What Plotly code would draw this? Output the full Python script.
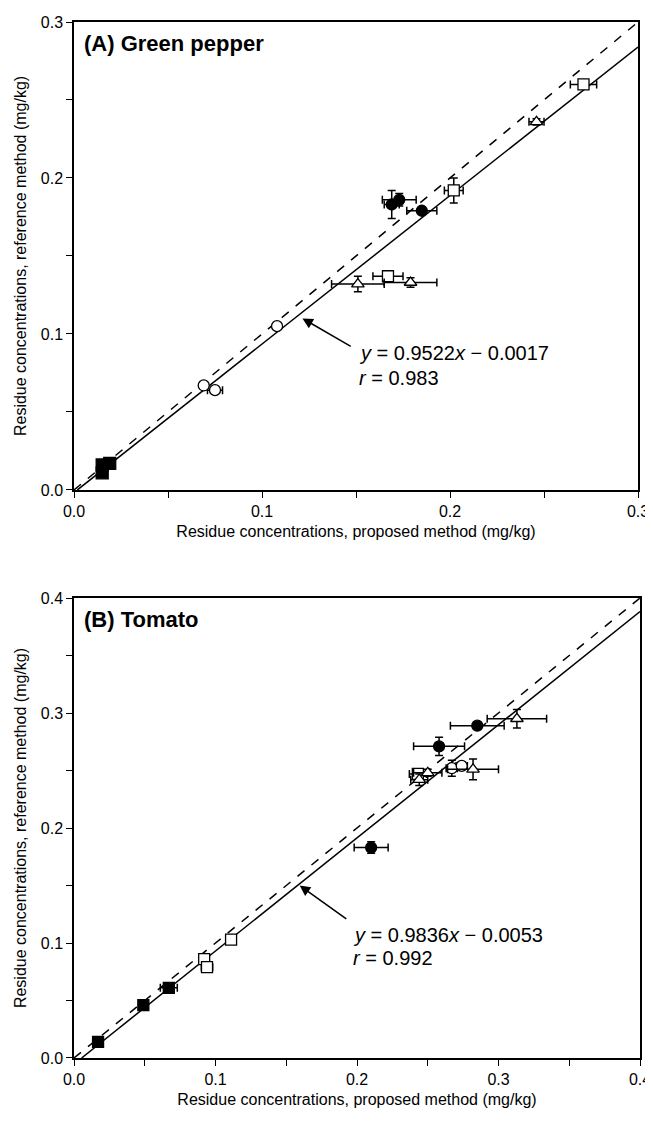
import plotly.graph_objects as go

# ---------------- Data: (A) Green pepper ----------------
gp_fsq_x = [0.015, 0.019, 0.015]
gp_fsq_y = [0.016, 0.017, 0.011]
gp_fsq_xe = [0.001, 0.001, 0.001]
gp_fsq_ye = [0.001, 0.001, 0.001]

gp_ocir_x = [0.069, 0.075, 0.108]
gp_ocir_y = [0.067, 0.064, 0.105]
gp_ocir_xe = [0.001, 0.004, 0.001]
gp_ocir_ye = [0.001, 0.001, 0.001]

gp_fcir_x = [0.169, 0.173, 0.185]
gp_fcir_y = [0.183, 0.186, 0.179]
gp_fcir_xe = [0.004, 0.009, 0.008]
gp_fcir_ye = [0.009, 0.004, 0.002]

gp_osq_x = [0.167, 0.202, 0.271]
gp_osq_y = [0.137, 0.192, 0.260]
gp_osq_xe = [0.008, 0.005, 0.007]
gp_osq_ye = [0.002, 0.008, 0.002]

gp_tri_x = [0.151, 0.179, 0.246]
gp_tri_y = [0.132, 0.133, 0.236]
gp_tri_xe = [0.014, 0.014, 0.004]
gp_tri_ye = [0.005, 0.003, 0.002]

gp_slope, gp_icpt, gp_r = 0.9522, -0.0017, 0.983

# ---------------- Data: (B) Tomato ----------------
tm_fsq_x = [0.017, 0.049, 0.067]
tm_fsq_y = [0.014, 0.046, 0.061]
tm_fsq_xe = [0.002, 0.002, 0.006]
tm_fsq_ye = [0.002, 0.002, 0.002]

tm_osq_x = [0.092, 0.094, 0.111, 0.243]
tm_osq_y = [0.086, 0.079, 0.103, 0.247]
tm_osq_xe = [0.002, 0.004, 0.002, 0.006]
tm_osq_ye = [0.002, 0.002, 0.002, 0.004]

tm_fcir_x = [0.210, 0.258, 0.285]
tm_fcir_y = [0.183, 0.271, 0.289]
tm_fcir_xe = [0.012, 0.018, 0.019]
tm_fcir_ye = [0.005, 0.008, 0.003]

tm_ocir_x = [0.267, 0.274]
tm_ocir_y = [0.252, 0.254]
tm_ocir_xe = [0.004, 0.004]
tm_ocir_ye = [0.007, 0.003]

tm_tri_x = [0.244, 0.250, 0.282, 0.313]
tm_tri_y = [0.242, 0.248, 0.251, 0.295]
tm_tri_xe = [0.006, 0.010, 0.018, 0.021]
tm_tri_ye = [0.005, 0.003, 0.009, 0.008]

tm_slope, tm_icpt, tm_r = 0.9836, -0.0053, 0.992

gp_ticks = [0.0, 0.05, 0.1, 0.15, 0.2, 0.25, 0.3]
gp_ticktext = ["0.0", "", "0.1", "", "0.2", "", "0.3"]
tm_ticks = [0.0, 0.05, 0.1, 0.15, 0.2, 0.25, 0.3, 0.35, 0.4]
tm_ticktext = ["0.0", "", "0.1", "", "0.2", "", "0.3", "", "0.4"]

FONT = "Liberation Sans, Arial, sans-serif"

fig = go.Figure()


def add_panel(xa, ya, xmax, slope, icpt, series):
    # 1:1 dashed line
    fig.add_trace(go.Scatter(x=[0, xmax], y=[0, xmax], mode="lines",
                             line=dict(color="black", width=1.5, dash="dash"),
                             xaxis=xa, yaxis=ya, showlegend=False, hoverinfo="skip"))
    x0 = -icpt / slope
    fig.add_trace(go.Scatter(x=[x0, xmax], y=[slope * x0 + icpt, slope * xmax + icpt],
                             mode="lines", line=dict(color="black", width=1.5),
                             xaxis=xa, yaxis=ya, showlegend=False, hoverinfo="skip"))
    for (sx, sy, sxe, sye, sym, fill, size) in series:
        fig.add_trace(go.Scatter(
            x=sx, y=sy, mode="markers",
            marker=dict(symbol=sym, size=size, color=fill,
                        line=dict(color="black", width=1.3)),
            error_x=dict(type="data", array=sxe, color="black", thickness=1.5, width=4),
            error_y=dict(type="data", array=sye, color="black", thickness=1.5, width=4),
            xaxis=xa, yaxis=ya, showlegend=False, cliponaxis=False))


add_panel("x", "y", 0.3, gp_slope, gp_icpt, [
    (gp_fsq_x, gp_fsq_y, gp_fsq_xe, gp_fsq_ye, "square", "black", 12),
    (gp_ocir_x, gp_ocir_y, gp_ocir_xe, gp_ocir_ye, "circle", "white", 11),
    (gp_fcir_x, gp_fcir_y, gp_fcir_xe, gp_fcir_ye, "circle", "black", 11),
    (gp_osq_x, gp_osq_y, gp_osq_xe, gp_osq_ye, "square", "white", 11),
    (gp_tri_x, gp_tri_y, gp_tri_xe, gp_tri_ye, "triangle-up", "white", 11),
])
add_panel("x2", "y2", 0.4, tm_slope, tm_icpt, [
    (tm_fsq_x, tm_fsq_y, tm_fsq_xe, tm_fsq_ye, "square", "black", 11),
    (tm_osq_x, tm_osq_y, tm_osq_xe, tm_osq_ye, "square", "white", 11),
    (tm_fcir_x, tm_fcir_y, tm_fcir_xe, tm_fcir_ye, "circle", "black", 11),
    (tm_ocir_x, tm_ocir_y, tm_ocir_xe, tm_ocir_ye, "circle", "white", 11),
    (tm_tri_x, tm_tri_y, tm_tri_xe, tm_tri_ye, "triangle-up", "white", 11),
])

axis_common = dict(showgrid=False, zeroline=False, showline=True, linecolor="black",
                   linewidth=1.5, mirror=True, ticks="outside", ticklen=6,
                   tickwidth=1.2, tickcolor="black", automargin=False,
                   tickfont=dict(family=FONT, size=16, color="black"))
xtitle = "Residue concentrations, proposed method (mg/kg)"
ytitle = "Residue concentrations, reference method (mg/kg)"
tfont = dict(family=FONT, size=16, color="black")

# page body has an 8px margin: size the figure so it fits the 653x1132 window
fig.update_layout(
    width=645, height=1116,
    margin=dict(l=66, r=13, t=14, b=66),
    paper_bgcolor="white", plot_bgcolor="white",
    font=dict(family=FONT, color="black"),
    xaxis=dict(axis_common, domain=[0, 0.9965], range=[0, 0.3], anchor="y",
               tickvals=gp_ticks, ticktext=gp_ticktext,
               title=dict(text=xtitle, font=tfont, standoff=7)),
    yaxis=dict(axis_common, domain=[0.5483, 1], range=[0, 0.3], anchor="x",
               tickvals=gp_ticks, ticktext=gp_ticktext,
               title=dict(text=ytitle, font=tfont, standoff=10)),
    xaxis2=dict(axis_common, domain=[0, 1], range=[0, 0.4], anchor="y2",
                tickvals=tm_ticks, ticktext=tm_ticktext,
                title=dict(text=xtitle, font=tfont, standoff=7)),
    yaxis2=dict(axis_common, domain=[0, 0.444], range=[0, 0.4], anchor="x2",
                tickvals=tm_ticks, ticktext=tm_ticktext,
                title=dict(text=ytitle, font=tfont, standoff=10)),
)

eq_font = dict(family=FONT, size=20, color="black")
fig.add_annotation(xref="x domain", yref="y domain", x=0.014, y=0.953, xanchor="left",
                   yanchor="middle", showarrow=False, text="<b>(A) Green pepper</b>",
                   font=dict(family=FONT, size=22, color="black"))
fig.add_annotation(xref="x2 domain", yref="y2 domain", x=0.014, y=0.953, xanchor="left",
                   yanchor="middle", showarrow=False, text="<b>(B) Tomato</b>",
                   font=dict(family=FONT, size=22, color="black"))

fig.add_annotation(xref="x", yref="y", x=0.1505, y=0.0878, xanchor="left", yanchor="middle",
                   showarrow=False, font=eq_font,
                   text=f"<i>y</i> = {gp_slope}<i>x</i> \u2212 {abs(gp_icpt)}")
fig.add_annotation(xref="x", yref="y", x=0.1505, y=0.0718, xanchor="left", yanchor="middle",
                   showarrow=False, font=eq_font, text=f"<i>r</i> = {gp_r}")
fig.add_annotation(xref="x2", yref="y2", x=0.196, y=0.107, xanchor="left", yanchor="middle",
                   showarrow=False, font=eq_font,
                   text=f"<i>y</i> = {tm_slope}<i>x</i> \u2212 {abs(tm_icpt)}")
fig.add_annotation(xref="x2", yref="y2", x=0.196, y=0.087, xanchor="left", yanchor="middle",
                   showarrow=False, font=eq_font, text=f"<i>r</i> = {tm_r}")

# arrows
fig.add_annotation(xref="x", yref="y", axref="x", ayref="y", x=0.1215, y=0.110,
                   ax=0.148, ay=0.0915, text="", showarrow=True, arrowhead=2,
                   arrowsize=1.4, arrowwidth=1.5, arrowcolor="black")
fig.add_annotation(xref="x2", yref="y2", axref="x2", ayref="y2", x=0.1595, y=0.150,
                   ax=0.1935, ay=0.120, text="", showarrow=True, arrowhead=2,
                   arrowsize=1.4, arrowwidth=1.5, arrowcolor="black")

fig.write_html("out.html")
